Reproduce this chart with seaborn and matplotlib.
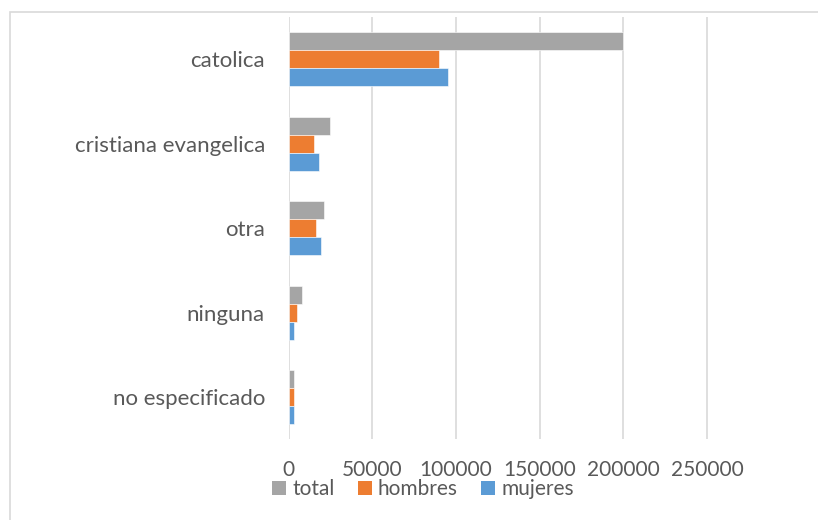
"""Horizontal grouped bars: religion by sex."""
import matplotlib.pyplot as plt
import pandas as pd
import seaborn as sns
from matplotlib.patches import Patch, Rectangle


religiones = ["catolica", "cristiana evangelica", "otra", "ninguna", "no especificado"]
series = ["total", "hombres", "mujeres"]
total = [200000, 25000, 21500, 8000, 3000]
hombres = [90000, 15000, 16500, 4900, 3000]
mujeres = [95000, 18000, 19700, 3000, 3000]
xticks = [0, 50000, 100000, 150000, 200000, 250000]

colores = {"total": "#A5A5A5", "hombres": "#ED7D31", "mujeres": "#5B9BD5"}
texto = "#595959"

df = pd.DataFrame({"religion": religiones, "total": total,
                   "hombres": hombres, "mujeres": mujeres})
df = df.melt(id_vars="religion", value_vars=series,
             var_name="serie", value_name="valor")

sns.set_style("white")
plt.rcParams["font.family"] = ["Lato", "DejaVu Sans"]

fig = plt.figure(figsize=(8.18, 5.2), dpi=100)
ax = fig.add_axes([288.5 / 818, 1 - 439.3 / 520, 502.2 / 818, 422.5 / 520])

sns.barplot(data=df, x="valor", y="religion", hue="serie", order=religiones,
            hue_order=series, palette=colores, saturation=1, orient="h",
            width=0.64, edgecolor="white", linewidth=0.4, legend=False, ax=ax)

ax.set_xlim(0, 300000)
ax.set_xticks(xticks)
ax.set_xticklabels([str(v) for v in xticks])
ax.set_xlabel("")
ax.set_ylabel("")
ax.grid(axis="x", color="#D9D9D9", linewidth=1.2)
ax.set_axisbelow(True)
for s in ax.spines.values():
    s.set_visible(False)
ax.tick_params(axis="x", length=0, pad=15, labelsize=15, labelcolor=texto)
ax.tick_params(axis="y", length=0, pad=17, labelsize=16, labelcolor=texto)

handles = [Patch(facecolor=colores[s], edgecolor="none") for s in series]
fig.legend(handles, series, loc="center", bbox_to_anchor=(423 / 818, 1 - 489 / 520),
           ncol=3, frameon=False, fontsize=15, labelcolor=texto,
           handlelength=0.67, handleheight=0.67, handletextpad=0.3,
           columnspacing=1.1, borderpad=0)

# chart border (cut at the right and bottom)
fig.patches.append(Rectangle((9.5 / 818, -0.1), 1.2, 1.1 - 12.5 / 520,
                             transform=fig.transFigure, fill=False,
                             edgecolor="#D9D9D9", linewidth=1.2))

fig.savefig("out.png", dpi=100)
